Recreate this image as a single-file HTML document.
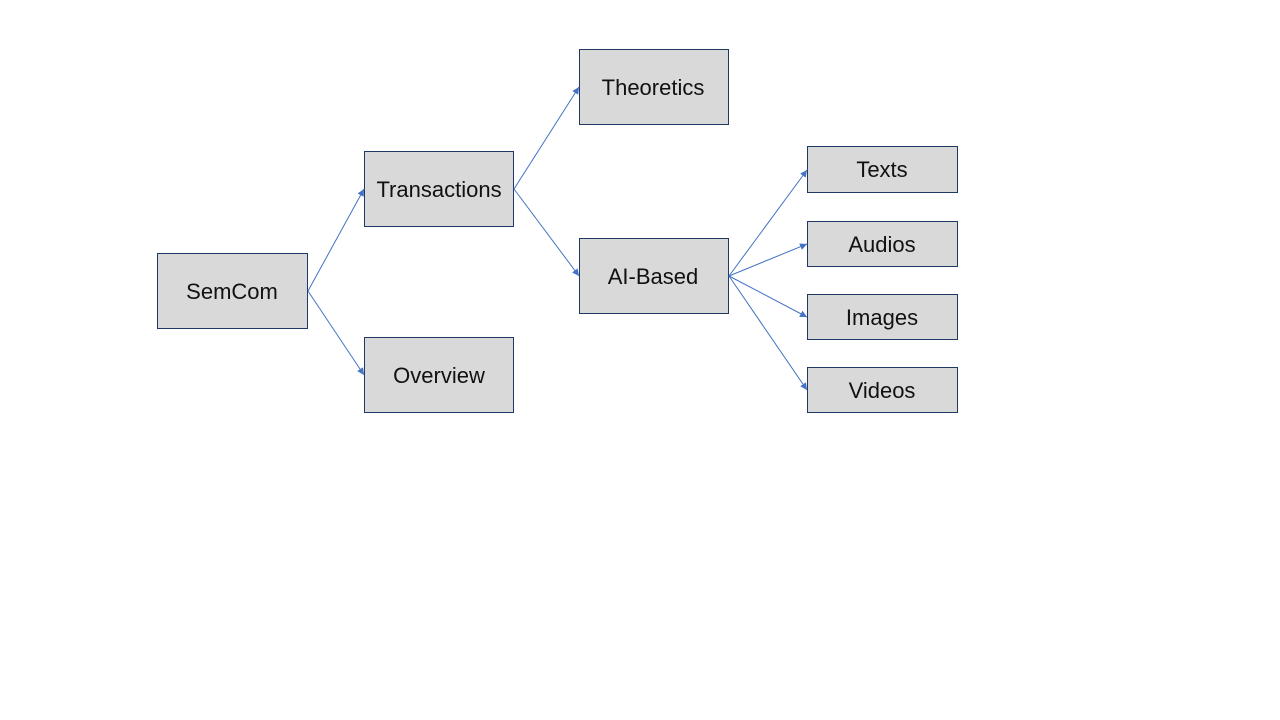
<!DOCTYPE html>
<html><head><meta charset="utf-8"><style>
html,body{margin:0;padding:0;background:#fff;width:1280px;height:720px;overflow:hidden}
text{font-family:"Liberation Sans","Noto Sans CJK SC",sans-serif;font-size:22px;fill:#111}
</style></head><body>
<svg width="1280" height="720" viewBox="0 0 1280 720" xmlns="http://www.w3.org/2000/svg">
<defs><marker id="a" viewBox="0 0 10 10" refX="10" refY="5" markerWidth="7" markerHeight="7" markerUnits="userSpaceOnUse" orient="auto"><path d="M0,0L10,5L0,10z" fill="#4472c4"/></marker></defs>
<g fill="#d9d9d9" stroke="#1f3864" stroke-width="1">
<rect x="157.5" y="253.5" width="150" height="75"/>
<rect x="364.5" y="151.5" width="149" height="75"/>
<rect x="364.5" y="337.5" width="149" height="75"/>
<rect x="579.5" y="49.5" width="149" height="75"/>
<rect x="579.5" y="238.5" width="149" height="75"/>
<rect x="807.5" y="146.5" width="150" height="46"/>
<rect x="807.5" y="221.5" width="150" height="45"/>
<rect x="807.5" y="294.5" width="150" height="45"/>
<rect x="807.5" y="367.5" width="150" height="45"/>
</g>
<g stroke="#4472c4" stroke-width="1" fill="none" marker-end="url(#a)">
<line x1="308" y1="291" x2="364" y2="189"/>
<line x1="308" y1="291" x2="364" y2="375"/>
<line x1="514" y1="189" x2="579" y2="87"/>
<line x1="514" y1="189" x2="579" y2="276"/>
<line x1="729" y1="276" x2="807" y2="170"/>
<line x1="729" y1="276" x2="807" y2="244"/>
<line x1="729" y1="276" x2="807" y2="317"/>
<line x1="729" y1="276" x2="807" y2="390"/>
</g>
<g text-anchor="middle">
<text x="232" y="299">SemCom</text>
<text x="439" y="197">Transactions</text>
<text x="439" y="383">Overview</text>
<text x="653" y="95">Theoretics</text>
<text x="653" y="284">AI-Based</text>
<text x="882" y="177">Texts</text>
<text x="882" y="252">Audios</text>
<text x="882" y="325">Images</text>
<text x="882" y="398">Videos</text>
</g>
</svg>
</body></html>
